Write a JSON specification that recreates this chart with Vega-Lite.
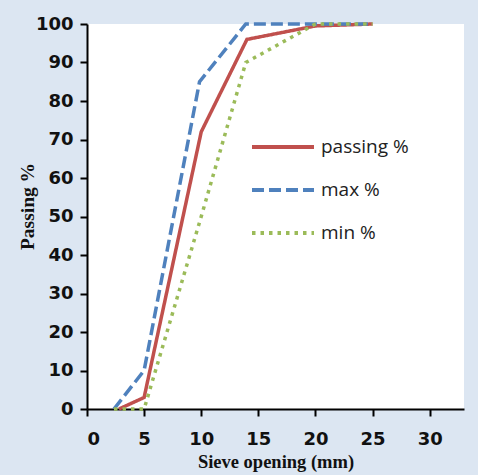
{
  "$schema": "https://vega.github.io/schema/vega-lite/v6.json",
  "width": 377,
  "height": 385,
  "autosize": {"type": "none"},
  "padding": {"left": 87, "top": 24, "right": 14, "bottom": 66},
  "background": "#dce6f2",
  "data": {
    "values": [
      {"series": "passing %", "x": 2.8, "y": 0},
      {"series": "passing %", "x": 5, "y": 3},
      {"series": "passing %", "x": 10, "y": 72},
      {"series": "passing %", "x": 14, "y": 96},
      {"series": "passing %", "x": 20, "y": 99.5},
      {"series": "passing %", "x": 25, "y": 100},
      {"series": "max %", "x": 2.36, "y": 0},
      {"series": "max %", "x": 5, "y": 10},
      {"series": "max %", "x": 9.85, "y": 85},
      {"series": "max %", "x": 13.9, "y": 100},
      {"series": "max %", "x": 20, "y": 100},
      {"series": "max %", "x": 25, "y": 100},
      {"series": "min %", "x": 2.36, "y": 0},
      {"series": "min %", "x": 5, "y": 0},
      {"series": "min %", "x": 10, "y": 50},
      {"series": "min %", "x": 13.9, "y": 90},
      {"series": "min %", "x": 20, "y": 100},
      {"series": "min %", "x": 25, "y": 100}
    ]
  },
  "mark": {"type": "line", "strokeWidth": 3.5, "clip": false},
  "encoding": {
    "x": {
      "field": "x", "type": "quantitative",
      "scale": {"domain": [0, 33], "nice": false, "zero": false},
      "axis": {
        "values": [0, 5, 10, 15, 20, 25, 30],
        "title": "Sieve opening (mm)",
        "grid": false,
        "domainColor": "black", "domainWidth": 2,
        "tickColor": "black", "tickWidth": 2, "tickSize": 7,
        "labelFont": "DejaVu Sans", "labelFontWeight": "bold", "labelFontSize": 18, "labelColor": "#111",
        "labelPadding": 14,
        "titleFont": "Liberation Serif", "titleFontWeight": "bold", "titleFontSize": 18.5, "titleColor": "#111",
        "titlePadding": 4
      }
    },
    "y": {
      "field": "y", "type": "quantitative",
      "scale": {"domain": [0, 100], "nice": false},
      "axis": {
        "values": [0, 10, 20, 30, 40, 50, 60, 70, 80, 90, 100],
        "title": "Passing %",
        "grid": false,
        "domainColor": "black", "domainWidth": 2,
        "tickColor": "black", "tickWidth": 2, "tickSize": 7,
        "labelFont": "DejaVu Sans", "labelFontWeight": "bold", "labelFontSize": 18, "labelColor": "#111",
        "labelPadding": 7,
        "titleFont": "Liberation Serif", "titleFontWeight": "bold", "titleFontSize": 19.5, "titleColor": "#111",
        "titlePadding": -2,
        "titleY": 182
      }
    },
    "color": {
      "field": "series", "type": "nominal",
      "scale": {"domain": ["passing %", "max %", "min %"], "range": ["#c0504d", "#4f81bd", "#9bbb59"]},
      "legend": {
        "title": null,
        "orient": "none",
        "legendX": 163,
        "legendY": 90,
        "symbolType": "stroke",
        "symbolSize": 3844,
        "symbolStrokeWidth": 4,
        "labelFont": "Open Sans",
        "labelFontSize": 19,
        "labelColor": "#222",
        "labelOffset": 5,
        "rowPadding": -8
      }
    },
    "strokeDash": {
      "field": "series", "type": "nominal",
      "scale": {"domain": ["passing %", "max %", "min %"], "range": [[1, 0], [12, 5], [3.5, 5]]},
      "legend": null
    },
    "order": {"field": "x", "type": "quantitative"}
  },
  "config": {"view": {"fill": "white", "stroke": null}}
}
